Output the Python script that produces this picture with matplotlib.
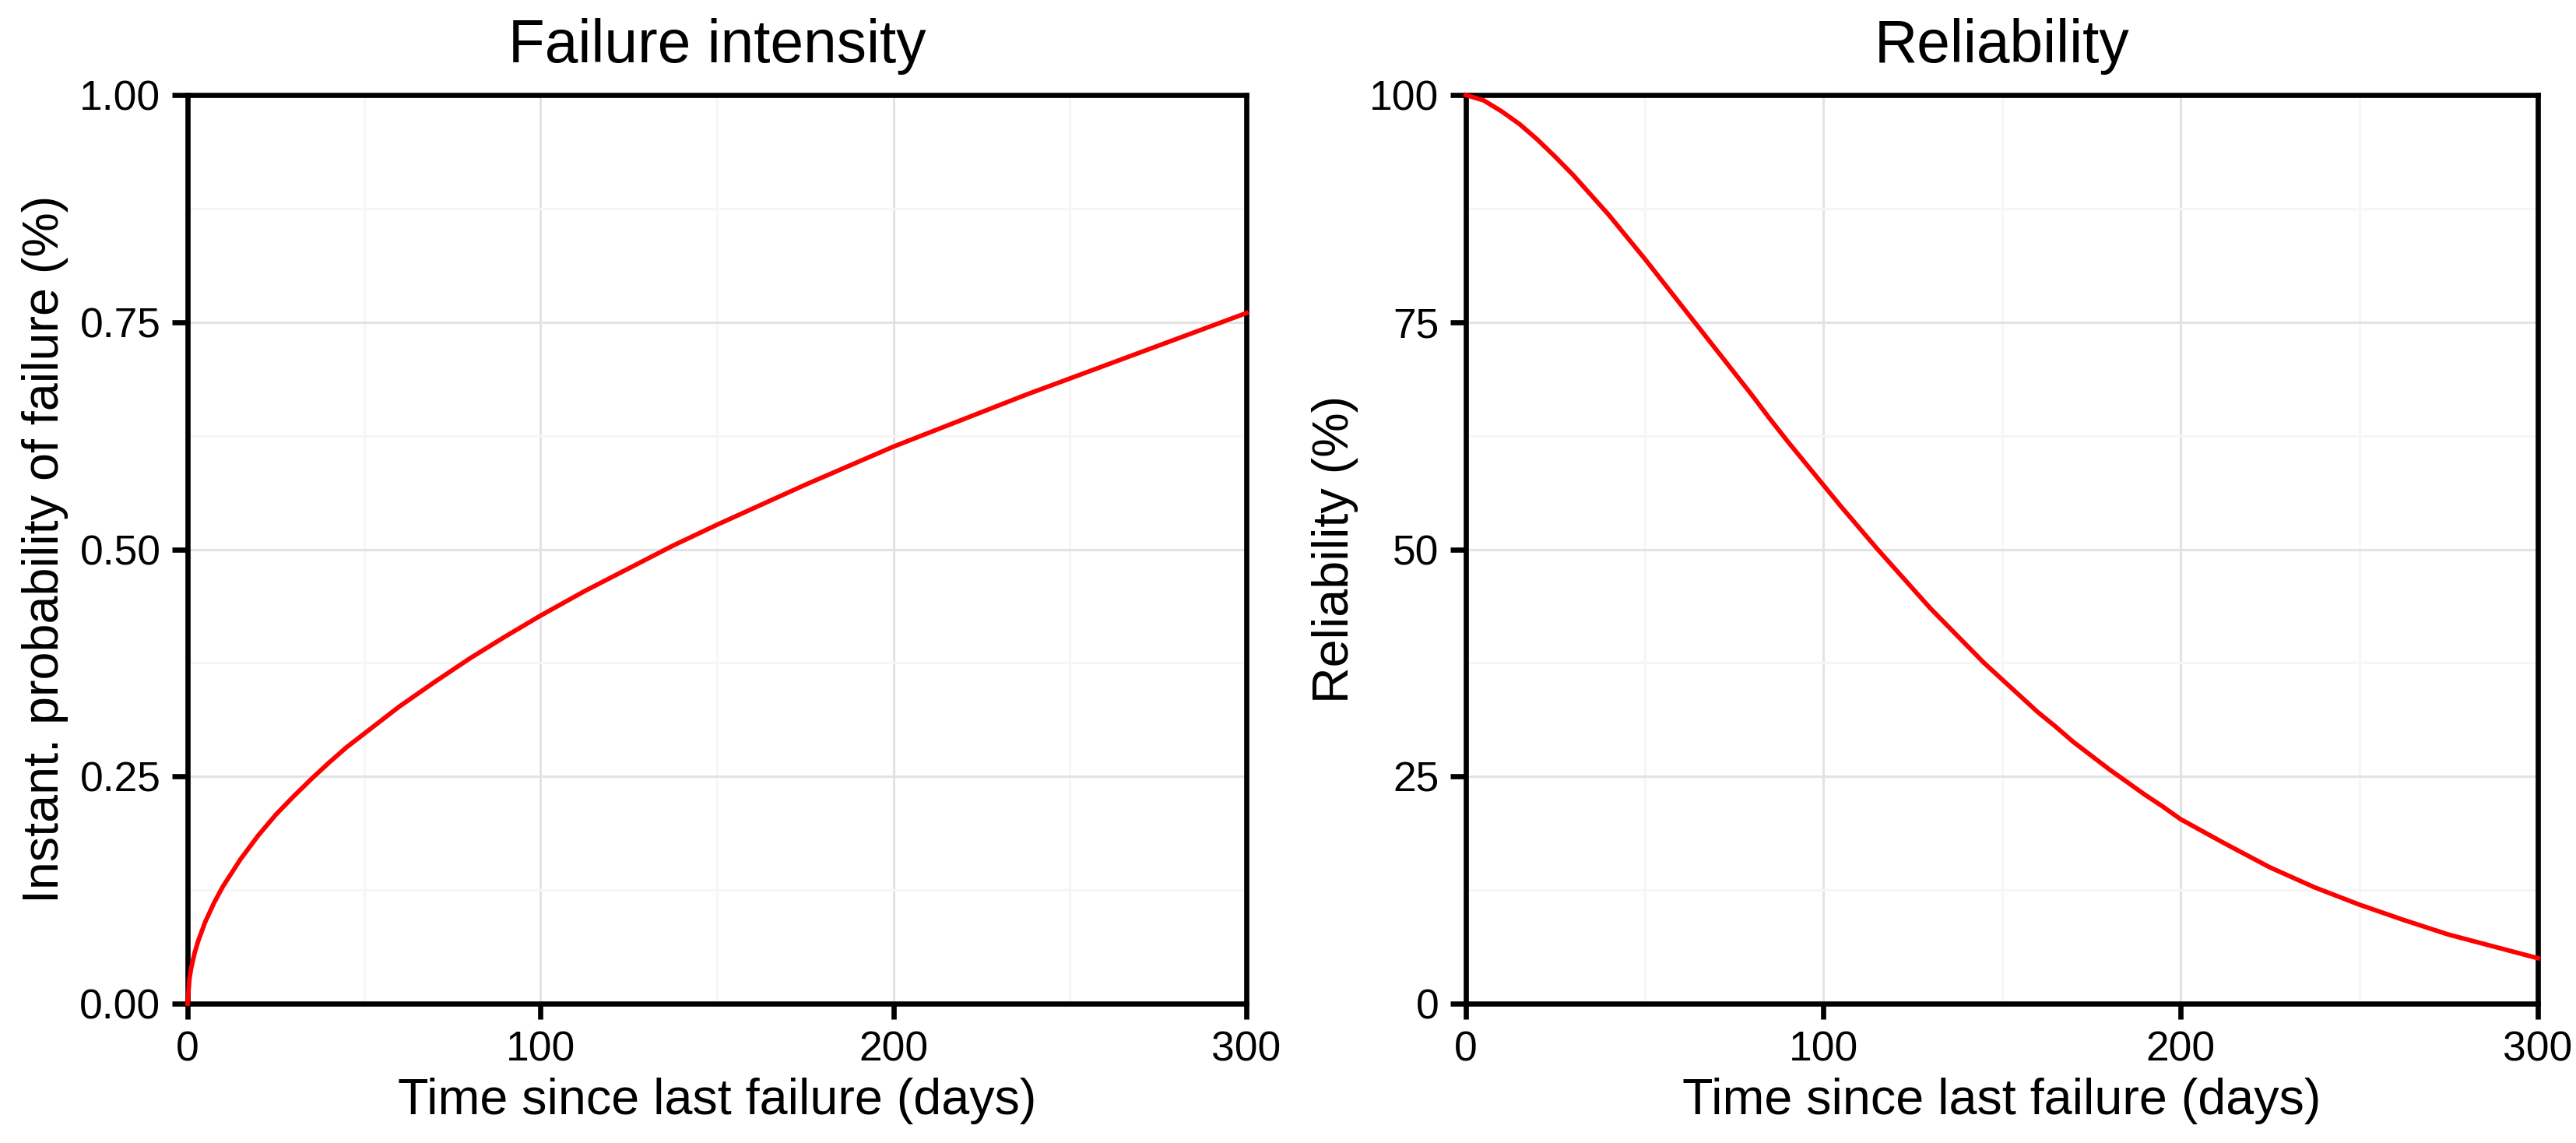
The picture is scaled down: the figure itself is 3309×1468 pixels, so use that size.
import matplotlib
matplotlib.use("Agg")
import matplotlib.pyplot as plt
from matplotlib.ticker import MultipleLocator

plt.rcParams['font.family'] = ['Liberation Sans', 'DejaVu Sans']

# failure intensity (days -> %)
days_h = [0, 0.5, 1, 2, 3, 5, 7.5, 10, 15, 20, 25, 30, 35, 40, 45, 50, 60,
          70, 80, 90, 100, 112.5, 125, 137.5, 150, 162.5, 175, 187.5, 200,
          212.5, 225, 237.5, 250, 262.5, 275, 287.5, 300]
intensity = [0.0, 0.027, 0.039, 0.056, 0.069, 0.090, 0.111, 0.129, 0.159,
             0.185, 0.208, 0.228, 0.247, 0.265, 0.282, 0.297, 0.327, 0.354,
             0.380, 0.404, 0.427, 0.454, 0.479, 0.504, 0.527, 0.549, 0.571,
             0.592, 0.613, 0.632, 0.651, 0.670, 0.688, 0.706, 0.724, 0.742,
             0.760]

# reliability (days -> %)
days_r = [0, 5, 10, 15, 20, 25, 30, 35, 40, 45, 50, 55, 60, 65, 70, 75, 80,
          85, 90, 95, 100, 105, 110, 115, 120, 125, 130, 135, 140, 145, 150,
          155, 160, 165, 170, 175, 180, 185, 190, 195, 200, 212.5, 225,
          237.5, 250, 262.5, 275, 287.5, 300]
reliability = [100, 99.4, 98.2, 96.8, 95.1, 93.2, 91.2, 89.0, 86.8, 84.4,
               82.0, 79.5, 77.0, 74.5, 72.0, 69.5, 67.0, 64.4, 61.9, 59.5,
               57.1, 54.7, 52.4, 50.1, 47.9, 45.7, 43.5, 41.5, 39.5, 37.5,
               35.7, 33.9, 32.1, 30.5, 28.8, 27.3, 25.8, 24.4, 23.0, 21.7,
               20.3, 17.6, 15.0, 12.8, 10.9, 9.2, 7.6, 6.3, 5.0]

x_ticks = [0, 100, 200, 300]
h_ticks = [0, 0.25, 0.5, 0.75, 1.0]
h_labels = ["0.00", "0.25", "0.50", "0.75", "1.00"]
r_ticks = [0, 25, 50, 75, 100]

fig = plt.figure(figsize=(3309 / 300, 1468 / 300), dpi=300)
ax1 = fig.add_axes([241 / 3309, 1 - 1289 / 1468, 1360 / 3309, 1167 / 1468])
ax2 = fig.add_axes([1883 / 3309, 1 - 1289 / 1468, 1377 / 3309, 1167 / 1468])


def style(ax, yticks, ylabels, ymax, yminor):
    ax.set_xlim(0, 300)
    ax.set_ylim(0, ymax)
    ax.set_xticks(x_ticks)
    ax.set_yticks(yticks)
    ax.set_yticklabels(ylabels)
    ax.xaxis.set_minor_locator(MultipleLocator(50))
    ax.yaxis.set_minor_locator(MultipleLocator(yminor))
    ax.grid(which='major', color='#E3E3E3', lw=0.75)
    ax.grid(which='minor', color='#F6F6F6', lw=0.75)
    ax.set_axisbelow(True)
    for s in ax.spines.values():
        s.set_linewidth(1.6)
        s.set_color('black')
    ax.tick_params(which='major', length=4.8, width=1.6, color='black',
                   labelsize=12.8, pad=3.5, labelcolor='black')
    ax.tick_params(which='minor', length=0)


ax1.plot(days_h, intensity, color='#FF0000', lw=1.4, clip_on=False, zorder=3)
style(ax1, h_ticks, h_labels, 1.0, 0.125)
ax1.set_title("Failure intensity", fontsize=18.4, pad=10)
ax1.set_xlabel("Time since last failure (days)", fontsize=15.5, labelpad=2.5)
ax1.set_ylabel("Instant. probability of failure (%)", fontsize=15.5, labelpad=3.4)

ax2.plot(days_r, reliability, color='#FF0000', lw=1.4, clip_on=False, zorder=3)
style(ax2, r_ticks, [str(v) for v in r_ticks], 100, 12.5)
ax2.set_title("Reliability", fontsize=18.4, pad=10)
ax2.set_xlabel("Time since last failure (days)", fontsize=15.5, labelpad=2.5)
ax2.set_ylabel("Reliability (%)", fontsize=15.5, labelpad=3.4)

fig.savefig("out.png", dpi=300, facecolor='white')
